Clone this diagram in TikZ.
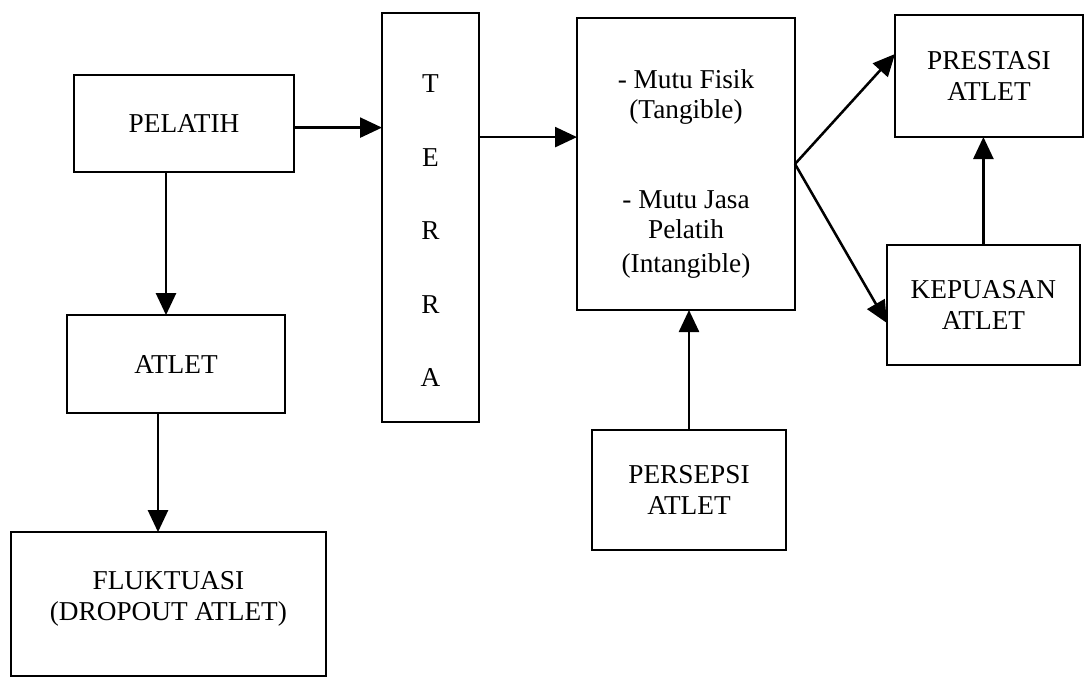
\documentclass[tikz,border=0pt]{standalone}
\usepackage{fontspec}
\setmainfont{Liberation Serif}
\usetikzlibrary{shapes,arrows,arrows.meta,calc,positioning,backgrounds}

\tikzset{
  blok/.style={draw, line width=1.8pt, outer sep=0pt, align=center,
    font=\fontsize{19.4}{21.5}\selectfont},
  panah/.style={line width=1.8pt, -{Triangle[length=0.55cm,width=0.5cm]}}
}

\begin{document}
\begin{tikzpicture}
  \useasboundingbox (0,0) rectangle (27.125,-16.975);

  \node[blok, minimum width=5.5cm, minimum height=2.425cm] (pelatih) at (4.6,-3.09) {PELATIH};
  \node[blok, minimum width=5.45cm, minimum height=2.45cm, below = 3.575cm of pelatih, xshift=-0.2cm] (atlet) {ATLET};
  \node[blok, minimum width=7.875cm, minimum height=3.6cm, below = 2.975cm of atlet, xshift=-0.19cm] (fluktuasi) {FLUKTUASI\\(DROPOUT ATLET)\\[-0.35cm]\mbox{}};
  \node[blok, minimum width=2.425cm, minimum height=10.225cm, right = 2.2cm of pelatih, yshift=-2.35cm] (terra)
    {\rule{0pt}{1.1cm}T\\[1.08cm]E\\[1.08cm]R\\[1.08cm]R\\[1.08cm]A};
  \node[blok, minimum width=5.45cm, minimum height=7.3cm, right = 2.45cm of terra, yshift=1.34cm] (mutu)
    {\rule{0pt}{0.95cm}- Mutu Fisik\\(Tangible)\\[1.5cm]- Mutu Jasa\\Pelatih\\[0.08cm](Intangible)};
  \node[blok, minimum width=4.85cm, minimum height=3cm, below = 3cm of mutu, xshift=0.075cm] (persepsi) {PERSEPSI\\ATLET};
  \node[blok, minimum width=4.7cm, minimum height=3.05cm, right = 2.5cm of mutu, yshift=2.2cm] (prestasi) {PRESTASI\\ATLET};
  \node[blok, minimum width=4.825cm, minimum height=3cm, below = 2.7cm of prestasi, xshift=-0.14cm] (kepuasan) {KEPUASAN\\ATLET};

  \draw[panah] ([yshift=-0.1cm]pelatih.east) -- ([yshift=-0.1cm]pelatih.east -| terra.west);
  \draw[panah] ([xshift=-0.45cm]pelatih.south) -- ([xshift=-0.45cm]pelatih.south |- atlet.north);
  \draw[panah] ([xshift=-0.45cm]atlet.south) -- ([xshift=-0.45cm]atlet.south |- fluktuasi.north);
  \draw[panah] ([yshift=-3.1cm]terra.north east) -- ([yshift=-3.1cm]terra.north east -| mutu.west);
  \draw[panah] (persepsi.north) -- (persepsi.north |- mutu.south);
  \draw[panah] (mutu.east) -- ([yshift=0.55cm]prestasi.west);
  \draw[panah] (mutu.east) -- ([yshift=-0.45cm]kepuasan.west);
  \draw[panah] (kepuasan.north) -- (kepuasan.north |- prestasi.south);

\end{tikzpicture}
\end{document}
